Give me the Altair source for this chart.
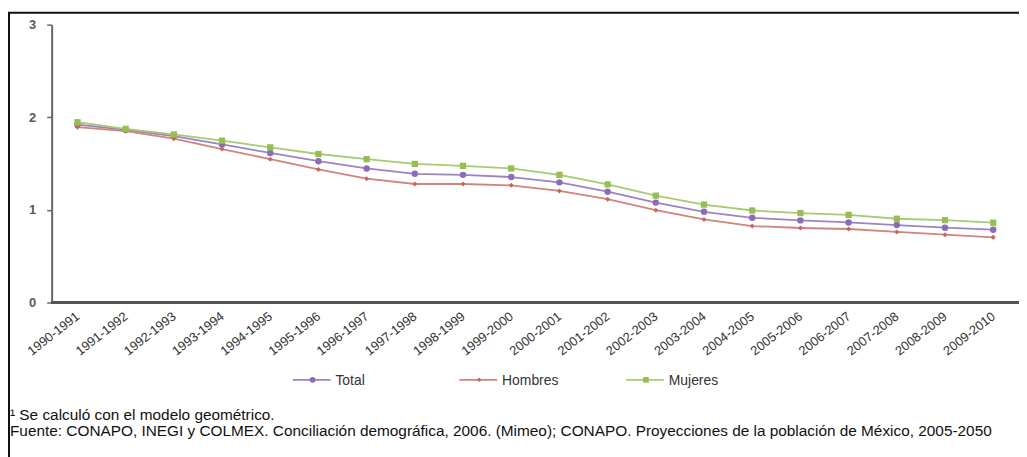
import altair as alt
import pandas as pd

periods = ["1990-1991", "1991-1992", "1992-1993", "1993-1994", "1994-1995",
           "1995-1996", "1996-1997", "1997-1998", "1998-1999", "1999-2000",
           "2000-2001", "2001-2002", "2002-2003", "2003-2004", "2004-2005",
           "2005-2006", "2006-2007", "2007-2008", "2008-2009", "2009-2010"]
total = [1.92, 1.865, 1.796, 1.707, 1.614, 1.525, 1.447, 1.389, 1.378, 1.354,
         1.297, 1.196, 1.078, 0.979, 0.914, 0.886, 0.864, 0.836, 0.807, 0.786]
hombres = [1.893, 1.85, 1.768, 1.657, 1.547, 1.436, 1.336, 1.279, 1.279, 1.265,
           1.204, 1.115, 0.996, 0.896, 0.825, 0.804, 0.793, 0.761, 0.732, 0.703]
mujeres = [1.946, 1.875, 1.814, 1.747, 1.675, 1.603, 1.547, 1.496, 1.475, 1.447,
           1.378, 1.275, 1.153, 1.057, 0.993, 0.965, 0.946, 0.904, 0.889, 0.861]
series_names = ["Total", "Hombres", "Mujeres"]
line_colors = ["#9A84C4", "#D2837B", "#A8CB72"]
point_colors = ["#8A6CB9", "#C9675E", "#93C04F"]
shapes = ["circle", "diamond", "square"]
sizes = [42, 26, 40]
y_ticks = [0, 1, 2, 3]
note1 = "¹ Se calculó con el modelo geométrico."
note2 = ("Fuente: CONAPO, INEGI y COLMEX. Conciliación demográfica, 2006. (Mimeo); "
         "CONAPO. Proyecciones de la población de México, 2005-2050")

values = {"Total": total, "Hombres": hombres, "Mujeres": mujeres}
rows = []
for s in series_names:
    for p, v in zip(periods, values[s]):
        rows.append({"periodo": p, "serie": s, "valor": v})
df = pd.DataFrame(rows)

W, H = 970, 280
FONT = "Liberation Sans"

xenc = alt.X("periodo:N", sort=periods,
             scale=alt.Scale(type="point", range=[26, 949], padding=0),
             axis=alt.Axis(title=None, domain=False, ticks=False, labelAngle=-38,
                           labelAlign="right", labelBaseline="middle",
                           labelPadding=12, labelFontSize=13, labelFont=FONT,
                           labelColor="#333333", grid=False))
yenc = alt.Y("valor:Q", scale=alt.Scale(domain=[0, 3], nice=False),
             axis=alt.Axis(title=None, values=y_ticks, format="d", grid=False,
                           domainColor="#666666", domainWidth=2, tickColor="#666666",
                           tickSize=5, tickWidth=1.5, labelPadding=11,
                           labelFontSize=13, labelFontWeight="bold",
                           labelColor="#5a5a5a", labelFont=FONT))

base = alt.Chart(df)
layers = []
# x axis line
layers.append(alt.Chart(df).mark_rule(color="#555555", strokeWidth=2).encode(
    x=alt.value(0), x2=alt.value(980), y=alt.value(H)))
for i, s in enumerate(series_names):
    sub = base.transform_filter(alt.datum.serie == s)
    layers.append(sub.mark_line(color=line_colors[i], strokeWidth=1.8).encode(x=xenc, y=yenc))
    layers.append(sub.mark_point(shape=shapes[i], filled=True, opacity=1,
                                 color=point_colors[i], size=sizes[i]).encode(x=xenc, y=yenc))

# legend (manual)
leg_y = 358
leg_x = [243, 411, 579]
for i, s in enumerate(series_names):
    lx = leg_x[i]
    one = alt.Chart(pd.DataFrame({"serie": [s]}))
    layers.append(one.mark_rule(color=line_colors[i], strokeWidth=1.8).encode(
        x=alt.value(lx), x2=alt.value(lx + 38), y=alt.value(leg_y)))
    layers.append(one.mark_point(shape=shapes[i], filled=True, opacity=1,
                                 color=point_colors[i], size=sizes[i] * 0.8).encode(
        x=alt.value(lx + 20), y=alt.value(leg_y)))
    layers.append(one.mark_text(align="left", baseline="middle", fontSize=14,
                                font=FONT, color="#333333").encode(
        x=alt.value(lx + 43), y=alt.value(leg_y + 1), text="serie:N"))

# footnotes
notes = alt.Chart(pd.DataFrame({"t": [note1]})).mark_text(
    align="left", baseline="middle", fontSize=15.5, font=FONT, color="#111111").encode(
    x=alt.value(-42), y=alt.value(393), text="t:N")
notes2 = alt.Chart(pd.DataFrame({"t": [note2]})).mark_text(
    align="left", baseline="middle", fontSize=15.5, font=FONT, color="#111111").encode(
    x=alt.value(-42), y=alt.value(410), text="t:N")
layers += [notes, notes2]

# outer frame
frame = alt.Chart(pd.DataFrame({"a": [0]})).mark_rect(
    fill=None, stroke="#111111", strokeWidth=2).encode(
    x=alt.value(-43), x2=alt.value(995), y=alt.value(-12), y2=alt.value(445))
layers.append(frame)

chart = alt.layer(*layers).properties(
    width=W, height=H,
    autosize=alt.AutoSizeParams(type="none"),
    padding={"left": 44, "top": 15, "right": 5, "bottom": 154},
    background="white",
).configure_view(stroke=None)

chart.save("out.html", embed_options={"renderer": "svg", "actions": False})
